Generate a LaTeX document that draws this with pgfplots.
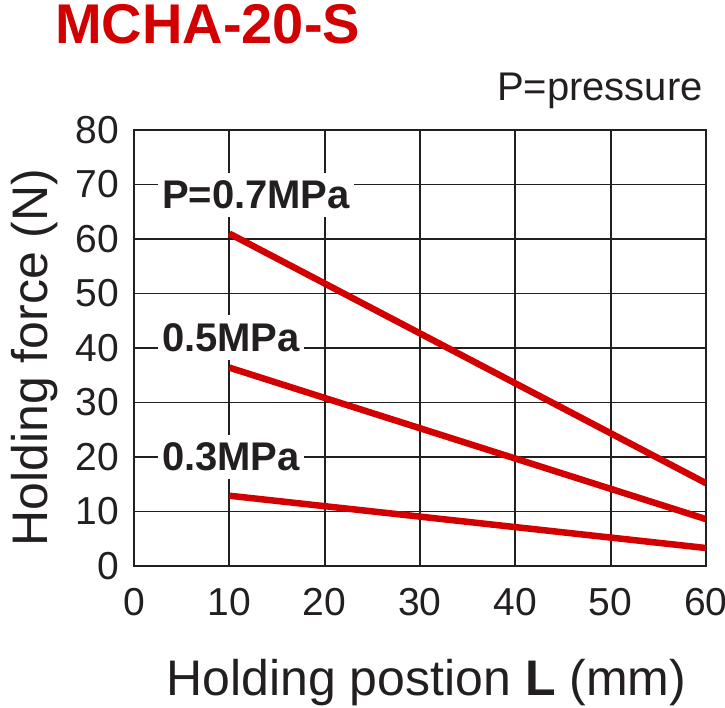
\documentclass[border=0pt]{standalone}
\usepackage{fontspec}
\setmainfont{Liberation Sans}
\usepackage{pgfplots}
\pgfplotsset{compat=1.18}
\definecolor{inkc}{RGB}{35,31,32}
\definecolor{redc}{RGB}{210,0,0}
\begin{document}
\begin{tikzpicture}
\path[use as bounding box] (0,0) rectangle (725pt,-707pt);
% title and note
\node[anchor=base west, inner sep=0, text=redc, font=\fontsize{56}{56}\selectfont\bfseries] at (55pt,-43pt) {MCHA-20-S};
\node[anchor=base east, inner sep=0, text=inkc, font=\fontsize{40}{40}\selectfont] at (703pt,-100pt) {P=pressure};
\begin{axis}[
    at={(134pt,-566pt)}, anchor=south west,
    scale only axis, width=572pt, height=436pt,
    xmin=0, xmax=60, ymin=0, ymax=80,
    xtick={0,10,...,60}, ytick={0,10,...,80},
    grid=major,
    grid style={inkc, line width=1.8pt},
    axis line style={inkc, line width=1.8pt},
    major tick length=0pt,
    tick style={draw=none},
    /pgf/number format/assume math mode=true,
    ticklabel style={font=\fontsize{39}{39}\selectfont, text=inkc, inner sep=0pt},
    xticklabel style={anchor=north, yshift=-22pt},
    yticklabel style={anchor=east, xshift=-15pt},
    xlabel={Holding postion \textbf{L} (mm)},
    ylabel={Holding force (N)},
    label style={font=\fontsize{50}{50}\selectfont, text=inkc},
    xlabel style={at={(axis description cs:0.511,-0.298)}, anchor=base},
    ylabel style={at={(axis description cs:-0.152,0.478)}, anchor=base},
]
% P=0.7MPa
\addplot[redc, line width=6.5pt, no marks] coordinates {(10,61.0) (60,15.2)};
% 0.5MPa
\addplot[redc, line width=6.5pt, no marks] coordinates {(10,36.4) (60,8.6)};
% 0.3MPa
\addplot[redc, line width=6.5pt, no marks] coordinates {(10,12.9) (60,3.3)};
\node[fill=white, inner xsep=4pt, inner ysep=8pt, anchor=west, text=inkc,
      font=\fontsize{40}{40}\selectfont\bfseries] at (axis cs:2.5,68.1) {P=0.7MPa};
\node[fill=white, inner xsep=4pt, inner ysep=8pt, anchor=west, text=inkc,
      font=\fontsize{40}{40}\selectfont\bfseries] at (axis cs:2.5,41.9) {0.5MPa};
\node[fill=white, inner xsep=4pt, inner ysep=8pt, anchor=west, text=inkc,
      font=\fontsize{40}{40}\selectfont\bfseries] at (axis cs:2.5,20.0) {0.3MPa};
\end{axis}
\end{tikzpicture}
\end{document}
